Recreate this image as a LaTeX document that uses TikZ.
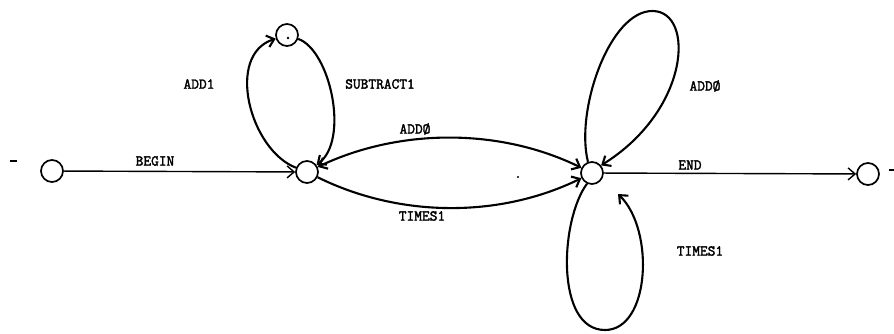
\documentclass[tikz,border=0pt]{standalone}
\usepackage{fontspec}
\newfontfamily\twfont[FakeBold=2.2]{Latin Modern Mono}
\usetikzlibrary{arrows.meta}
\begin{document}
\begin{tikzpicture}[x=1pt,y=-1pt,
  >={Straight Barb[length=7pt,width=12pt]},
  st/.style={circle,draw,line width=1.7pt,minimum size=22pt,inner sep=0pt},
  ln/.style={line width=1.4pt,->},
  lp/.style={line width=2.1pt,->},
  lbl/.style={font=\twfont\fontsize{15}{15}\selectfont,inner sep=0pt}]
\useasboundingbox (0,0) rectangle (894,334);
% states
\node[st] (A) at (52,171) {};
\node[st] (B) at (307,172) {};
\node[st] (T) at (287,35) {};
\node[st] (C) at (592,173) {};
\node[st] (D) at (868,174) {};
\fill (288,38) circle (1.3pt);
\coordinate (ct) at (618,194);
% connectors
\draw[ln] (A) -- (B);
\draw[ln] (C) -- (D);
\draw[lp] (B) .. controls (250,150) and (225,55) .. (T);
\draw[lp] (T) .. controls (330,50) and (350,140) .. (B);
\draw[lp,<->] (B) .. controls (400,128) and (500,128) .. (C);
\draw[lp] (B) .. controls (400,218) and (500,218) .. (C);
\draw[lp] (C.110) .. controls (575,110) and (610,10) .. (653,11)
  .. controls (695,12) and (690,110) .. (C.40);
\draw[lp] (C.245) .. controls (560,220) and (555,330) .. (605,330)
  .. controls (650,330) and (655,230) .. (ct);
% labels
\node[lbl] (lbegin) at (155,161) {BEGIN};
\node[lbl] (ladd1) at (199,84) {ADD1};
\node[lbl] (lsub) at (380,84) {SUBTRACT1};
\node[lbl] (laddu) at (415,129) {ADDØ};
\node[lbl] (ltimesl) at (422,216) {TIMES1};
\node[lbl] (laddr) at (705,86) {ADDØ};
\node[lbl] (lend) at (690,165) {END};
\node[lbl] (ltimesr) at (700,251) {TIMES1};
% stray marks
\draw[line width=1.5pt] (10,161) -- (17,161);
\draw[line width=1.5pt] (889,170) -- (894,170);
\fill (518,177) circle (1.2pt);
\end{tikzpicture}
\end{document}
